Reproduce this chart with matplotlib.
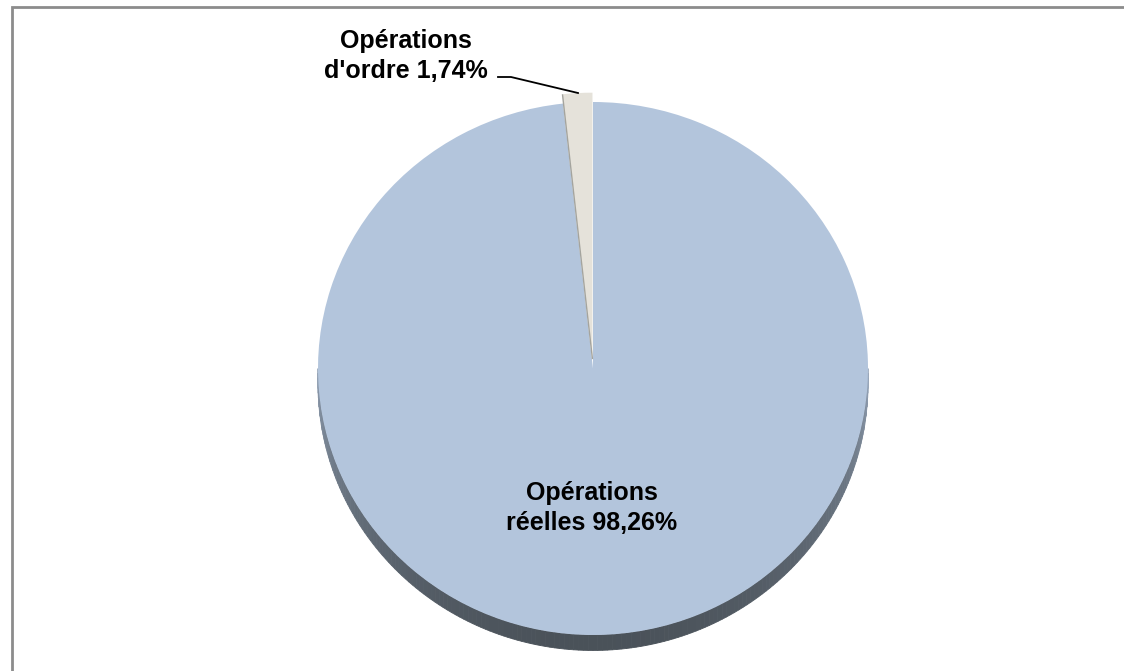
import numpy as np
import matplotlib
matplotlib.use("Agg")
import matplotlib.pyplot as plt
from matplotlib.patches import Polygon, Rectangle

plt.rcParams['font.family'] = ['Liberation Sans', 'DejaVu Sans']

labels = ["Opérations\nréelles 98,26%", "Opérations\nd'ordre 1,74%"]
values = [98.26, 1.74]
colors = ["#B3C5DC", "#E5E2DA"]
explode = [0.0, 0.035]

W, H = 1124, 671
cx, cy = 593, 368.5   # pie centre in pixels
rx, ry = 275, 266.5   # radii in pixels (slightly tilted pie)
depth = 0.058         # thickness of the pie side, in radius units

def px(x, y):
    # pixel position -> data units of the pie axes
    return (x - cx) / rx, (cy - y) / ry

fig = plt.figure(figsize=(W / 100, H / 100), dpi=100)
ax = fig.add_axes([0, 0, 1, 1])

# side of the pie (bottom half), shaded from grey-blue to dark grey
light = np.array([0.60, 0.66, 0.74])
dark = np.array([0.29, 0.32, 0.35])
ts = np.linspace(np.pi, 2 * np.pi, 181)
for t0, t1 in zip(ts[:-1], ts[1:]):
    tm = 0.5 * (t0 + t1)
    f = abs(np.sin(tm)) ** 0.6
    c = light + (dark - light) * f
    pts = [(np.cos(t0), np.sin(t0)), (np.cos(t1), np.sin(t1)),
           (np.cos(t1), np.sin(t1) - depth), (np.cos(t0), np.sin(t0) - depth)]
    ax.add_patch(Polygon(pts, closed=True, facecolor=c, edgecolor=c, lw=0.6))

wedges, _ = ax.pie(values, colors=colors, explode=explode, startangle=90,
                   counterclock=False, radius=1, center=(0, 0),
                   wedgeprops=dict(linewidth=0))
for w in wedges:
    w.set_clip_on(False)

# thin shade on the left wall of the small slice
w = wedges[1]
ang = np.deg2rad(w.theta2)
ox, oy = w.center
ax.plot([ox, ox + np.cos(ang)], [oy, oy + np.sin(ang)], color="#a4a49e", lw=1.0,
        solid_capstyle="butt")

ax.set_aspect("auto")
ax.set_xlim(px(0, 0)[0], px(W, 0)[0])
ax.set_ylim(px(0, H)[1], px(0, 0)[1])
ax.axis("off")

# labels
x, y = px(592, 508)
ax.text(x, y, labels[0], ha="center", va="center", fontsize=18,
        fontweight="bold", linespacing=1.32)
x, y = px(406, 56)
ax.text(x, y, labels[1], ha="center", va="center",
        fontsize=18, fontweight="bold", linespacing=1.32)

# leader line
lx = [px(498, 77)[0], px(511, 77)[0], px(578, 93)[0]]
ly = [px(498, 77)[1], px(511, 77)[1], px(578, 93)[1]]
ax.plot(lx, ly, color="black", lw=1.3)

# chart area border
fig.patches.append(Rectangle((12 / W, -0.1), 1.2, 1 - 7 / H + 0.1,
                             transform=fig.transFigure, fill=False,
                             edgecolor="#8c8c8c", lw=2))

fig.savefig("out.png", dpi=100)
